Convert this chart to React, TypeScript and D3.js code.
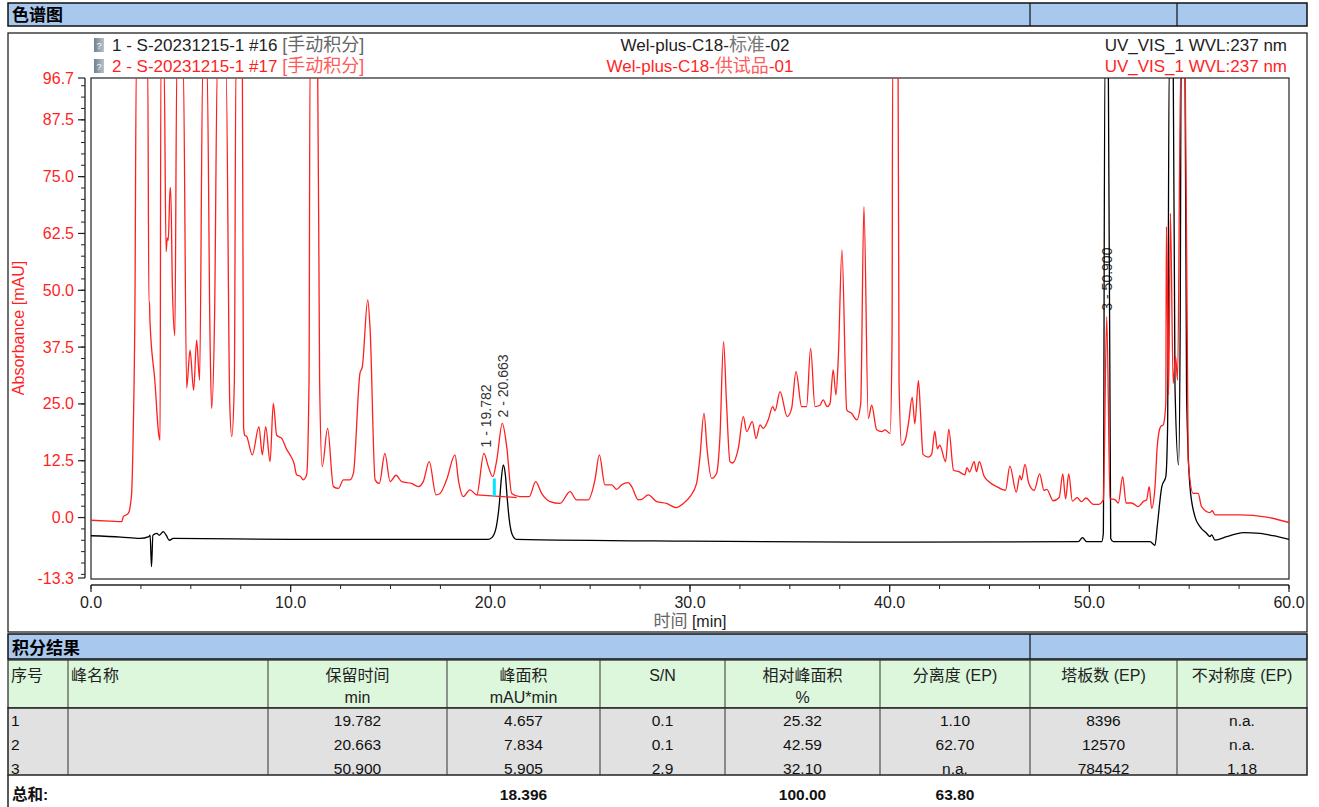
import React from 'react';
import * as d3 from 'd3';

// red trace: 2 - S-20231215-1 #17 (time min, mAU); 100 = beyond the top of the scale
const redTrace: [number, number][] = [
  [0, -0.6], [1.0, -0.8], [1.54, -0.9], [1.62, 0.2], [1.87, 0.9], [1.98, 3], [2.04, 5.7], [2.12, 20], [2.2, 46],
  [2.27, 100], [2.84, 100], [2.9, 47.5], [2.93, 47.5], [2.95, 43.5], [3.2, 30], [3.4, 18], [3.46, 17], [3.5, 100],
  [3.66, 100], [3.76, 58.5], [3.82, 61.5], [3.87, 61.0], [3.96, 72.5], [3.99, 72.5], [4.08, 50], [4.2, 40],
  [4.3, 100], [4.62, 100], [4.79, 28.5], [4.96, 36.8], [5.14, 28], [5.29, 39], [5.44, 30.2], [5.6, 100],
  [5.81, 100], [5.96, 40], [6.04, 24], [6.19, 44.5], [6.33, 100], [6.76, 100], [6.95, 25], [7.05, 17.8],
  [7.18, 30], [7.26, 100], [7.58, 100], [7.64, 20], [7.7, 18.1], [7.8, 17.8], [8.08, 13.8], [8.41, 20],
  [8.58, 13.8], [8.75, 20], [8.97, 12.3], [9.13, 25.1], [9.3, 18.1], [9.55, 17.4], [9.8, 15], [9.97, 13.8],
  [10.17, 11.9], [10.3, 9.4], [10.5, 9.0], [10.63, 8.3], [10.8, 9.4], [10.92, 30], [10.97, 100], [11.35, 100],
  [11.45, 30], [11.58, 11.2], [11.85, 19.6], [12.14, 6.8], [12.39, 6.4], [12.64, 8.3], [12.97, 8.3],
  [13.14, 9.7], [13.47, 31.7], [13.59, 33.2], [13.86, 47.9], [13.98, 41.3], [14.23, 8.3], [14.44, 7.5],
  [14.72, 14.1], [14.98, 7.9], [15.28, 9.3], [15.56, 7.9], [16.06, 7.5], [16.39, 6.8], [16.64, 7.9],
  [16.94, 12.3], [17.28, 5.0], [17.48, 5.3], [17.81, 8.3], [18.23, 13.8], [18.4, 8.3], [18.65, 4.6],
  [18.98, 6.1], [19.32, 5.0], [19.68, 14.1], [19.9, 11.2], [20.12, 9.0], [20.32, 12.6], [20.6, 20.7],
  [20.82, 15.6], [21.07, 5.3], [21.48, 4.6], [21.95, 4.6], [22.27, 7.9], [22.57, 5.3], [22.99, 3.5],
  [23.49, 3.1], [23.99, 5.7], [24.32, 3.9], [24.9, 3.9], [25.24, 8.3], [25.46, 13.8], [25.74, 7.2],
  [26.08, 7.2], [26.33, 6.2], [26.58, 7.2], [26.91, 7.7], [27.08, 6.8], [27.41, 3.9], [27.58, 4.0],
  [27.91, 5.0], [28.33, 3.5], [28.83, 3.1], [29.3, 2.2], [29.67, 3.1], [30.0, 4.6], [30.33, 7.5],
  [30.5, 13.4], [30.7, 22.9], [30.86, 14.8], [31.08, 8.6], [31.33, 9.7], [31.5, 17.8], [31.68, 38.7],
  [31.83, 25.1], [32.0, 12.3], [32.13, 12.0], [32.42, 15.2], [32.67, 22.2], [32.84, 18.9], [33.12, 21.1],
  [33.31, 17.4], [33.51, 20.4], [33.67, 19.6], [33.92, 21.5], [34.14, 24.4], [34.26, 23.5], [34.51, 27.7],
  [34.87, 22.2], [35.09, 24.0], [35.31, 32.1], [35.59, 24.4], [35.84, 24.4], [36.04, 37.2], [36.26, 24.4],
  [36.51, 24.7], [36.67, 25.9], [36.87, 24.4], [37.01, 25.0], [37.17, 32.5], [37.31, 27.0], [37.43, 35.4],
  [37.61, 58.9], [37.85, 23.7], [38.1, 22.9], [38.35, 21.5], [38.55, 25.1], [38.71, 68.4], [38.93, 21.8],
  [39.1, 24.7], [39.35, 19.3], [39.6, 18.9], [39.77, 19.3], [40.02, 18.5], [40.12, 40], [40.15, 100],
  [40.42, 100], [40.47, 30], [40.6, 15.9], [40.78, 17], [40.95, 21], [41.13, 26.5], [41.26, 20.6],
  [41.44, 30.1], [41.55, 22.6], [41.67, 13.9], [41.94, 13.3], [42.1, 13.9], [42.26, 19.0], [42.39, 15.1],
  [42.51, 15.9], [42.8, 12.3], [42.96, 19.4], [43.2, 10.4], [43.46, 10.1], [43.77, 9.4], [43.87, 11],
  [44.0, 10], [44.23, 12.3], [44.35, 10.1], [44.49, 12.3], [44.72, 9.2], [44.99, 7.8], [45.36, 6.8],
  [45.8, 6.0], [46.02, 11.3], [46.34, 5.6], [46.52, 9.2], [46.6, 8.3], [46.78, 11.7], [46.96, 7.6],
  [47.24, 6.0], [47.51, 9.6], [47.73, 6.0], [47.87, 6.2], [48.19, 3.7], [48.49, 4.4], [48.67, 9.6],
  [48.81, 4.1], [48.97, 9.6], [49.15, 3.6], [49.39, 4.4], [49.6, 3.5], [49.83, 4.3], [50.2, 2.9],
  [50.47, 2.9], [50.7, 3.9], [50.87, 44.2], [51.04, 4.2], [51.3, 3.9], [51.45, 3.2], [51.67, 9.0],
  [51.84, 3.2], [52.12, 3.2], [52.45, 2.4], [52.7, 3.5], [52.87, 3.9], [53.0, 6.8], [53.12, 2.0],
  [53.29, 6.8], [53.4, 15.6], [53.57, 20], [53.7, 20.4], [53.83, 25.1], [53.86, 64.0], [53.97, 27],
  [54.06, 66.9], [54.2, 29.5], [54.32, 35.4], [54.42, 30.2], [54.58, 100], [54.8, 100], [54.95, 12.7],
  [55.2, 5.3], [55.45, 5.3], [55.62, 2.4], [56.04, 1.1], [56.16, 1.5], [56.29, 0.6], [57.54, 0.6],
  [58.88, 0.1], [60, -1.1],
];

// black trace: 1 - S-20231215-1 #16
const blackTrace: [number, number][] = [
  [0, -4.0], [1.5, -4.3], [2.45, -4.6], [2.9, -4.2], [2.96, -3.9], [3.03, -10.8], [3.1, -3.9], [3.3, -3.5],
  [3.42, -3.9], [3.62, -3.1], [3.78, -4.0], [3.92, -5.0], [4.12, -4.6], [10, -4.8], [19.9, -4.8], [20.1, -4.3],
  [20.3, -2], [20.45, 3], [20.55, 8.5], [20.65, 11.6], [20.75, 9.5], [20.85, 4], [20.95, -0.5], [21.1, -3.8],
  [21.3, -4.8], [30, -5.2], [40, -5.4], [49.45, -5.3], [49.66, -4.4], [49.86, -5.3], [50.62, -5.3],
  [50.7, -3.5], [50.78, 100], [50.95, 100], [51.07, -4.6], [51.2, -5.3], [53.04, -5.3], [53.29, -6.1],
  [53.4, -2.0], [53.63, 6.8], [53.83, 9.0], [53.92, 20], [54.0, 100], [54.2, 100], [54.29, 28.8],
  [54.47, 11.6], [54.55, 42], [54.6, 100], [54.79, 100], [54.87, 27.3], [55.04, 6.8], [55.29, 0.2],
  [55.54, -2.0], [55.88, -3.5], [56.04, -4.2], [56.13, -3.8], [56.29, -4.95], [56.88, -4.2], [57.71, -3.3],
  [58.55, -3.5], [59.2, -4.0], [60, -4.8],
];

const yTickLabels = [96.7, 87.5, 75.0, 62.5, 50.0, 37.5, 25.0, 12.5, 0.0, -13.3];
const xTickLabels = [0, 10, 20, 30, 40, 50, 60];
const peakIds = [1, 2, 3];
const peakTimes = [19.782, 20.663, 50.9];
const integrationBaseline: [number, number][] = [[19.32, 5.0], [21.32, 4.4]];
const dropLine = { time: 20.2, low: 4.7, high: 8.6 };

// results table
const tableHeaders: [string, string][] = [
  ['序号', ''], ['峰名称', ''], ['保留时间', 'min'], ['峰面积', 'mAU*min'], ['S/N', ''],
  ['相对峰面积', '%'], ['分离度 (EP)', ''], ['塔板数 (EP)', ''], ['不对称度 (EP)', ''],
];
const peakNames = ['', '', ''];
const retention = ['19.782', '20.663', '50.900'];
const areas = ['4.657', '7.834', '5.905'];
const sn = ['0.1', '0.1', '2.9'];
const relArea = ['25.32', '42.59', '32.10'];
const resolution = ['1.10', '62.70', 'n.a.'];
const plates = ['8396', '12570', '784542'];
const asymmetry = ['n.a.', 'n.a.', '1.18'];
const totals = ['总和:', '', '', '18.396', '', '100.00', '63.80', '', ''];

const FONT = "'Liberation Sans', Arial, 'Noto Sans CJK SC', sans-serif";
const RED = '#ff1f1f';
const BLUE = '#a8c8ee';
const GREEN = '#dcf7dc';
const GREY = '#e1e1e1';

const W = 1319;
const H = 807;
const colEdges = [8, 68, 268, 447, 600, 725, 880, 1030, 1177, 1307];

export default function App() {
  const x = d3.scaleLinear().domain([0, 60]).range([91, 1289]);
  const y = d3.scaleLinear().domain([-13.3, 96.7]).range([578, 78]);

  const line = d3
    .line<[number, number]>()
    .x((d) => x(d[0]))
    .y((d) => y(d[1]))
    .curve(d3.curveMonotoneX);

  const minorY = d3.range(-12.5, 96.7, 2.5);
  const minorX = d3.range(0, 60.01, 2.5);

  const labels = peakTimes.map((rt, i) => {
    const near = redTrace.filter((p) => Math.abs(p[0] - rt) < 0.2);
    const top = d3.max(near, (p) => p[1]) ?? 0;
    return { id: peakIds[i], rt, top };
  });

  const rows = retention.map((_, i) => [
    String(peakIds[i]), peakNames[i], retention[i], areas[i], sn[i], relArea[i], resolution[i], plates[i], asymmetry[i],
  ]);

  const colCenter = (i: number) => (colEdges[i] + colEdges[i + 1]) / 2;

  return (
    <svg width={W} height={H} style={{ position: 'absolute', left: 0, top: 0, background: '#fff' }} fontFamily={FONT}>
      <defs>
        <clipPath id="plotClip">
          <rect x={x(0)} y={y(96.7)} width={x(60) - x(0)} height={y(-13.3) - y(96.7)} />
        </clipPath>
        <linearGradient id="icon" x1="0" x2="1">
          <stop offset="0" stopColor="#6f8290" />
          <stop offset="1" stopColor="#b7c3cc" />
        </linearGradient>
      </defs>

      {/* title bar */}
      <rect x={8} y={3} width={1299} height={23} fill={BLUE} stroke="#111" strokeWidth={1.5} />
      <line x1={1030} x2={1030} y1={3} y2={26} stroke="#111" strokeWidth={1.2} />
      <line x1={1177} x2={1177} y1={3} y2={26} stroke="#111" strokeWidth={1.2} />
      <text x={12} y={21} fontSize={17} fontWeight="bold" fill="#000">色谱图</text>

      {/* chart panel */}
      <rect x={8} y={33} width={1299} height={599} fill="#fff" stroke="#222" strokeWidth={1.3} />

      {/* legend */}
      {[0, 1].map((r) => (
        <g key={r}>
          <rect x={94} y={38 + r * 21} width={10} height={14} fill="url(#icon)" />
          <text x={99} y={49 + r * 21} fontSize={9} fill="#fff" textAnchor="middle">?</text>
        </g>
      ))}
      <text x={112} y={51} fontSize={17} fill="#222">
        1 - S-20231215-1 #16 <tspan fill="#666" fontSize={18}>[手动积分]</tspan>
      </text>
      <text x={112} y={72} fontSize={17} fill={RED}>
        2 - S-20231215-1 #17 <tspan fill="#ff5a5a" fontSize={18}>[手动积分]</tspan>
      </text>
      <text x={705} y={51} fontSize={17} fill="#222" textAnchor="middle">
        Wel-plus-C18-<tspan fill="#777" fontSize={18}>标准</tspan>-02
      </text>
      <text x={700} y={72} fontSize={17} fill={RED} textAnchor="middle">
        Wel-plus-C18-<tspan fill="#ff5a5a" fontSize={18}>供试品</tspan>-01
      </text>
      <text x={1287} y={51} fontSize={17} fill="#222" textAnchor="end">UV_VIS_1 WVL:237 nm</text>
      <text x={1287} y={72} fontSize={17} fill={RED} textAnchor="end">UV_VIS_1 WVL:237 nm</text>

      {/* plot frame */}
      <rect x={x(0)} y={y(96.7)} width={x(60) - x(0)} height={y(-13.3) - y(96.7) + 1} fill="none" stroke="#333" strokeWidth={1.3} />

      {/* y axis */}
      <line x1={85} x2={85} y1={y(96.7)} y2={y(-13.3)} stroke="#222" strokeWidth={1.3} />
      {minorY.map((v) => (
        <line key={'my' + v} x1={81} x2={85} y1={y(v)} y2={y(v)} stroke="#222" strokeWidth={1} />
      ))}
      {yTickLabels.map((v) => (
        <g key={'y' + v}>
          <line x1={78} x2={85} y1={y(v)} y2={y(v)} stroke="#222" strokeWidth={1.2} />
          <text x={74} y={y(v) + 5.5} fontSize={16} fill={RED} textAnchor="end">{v.toFixed(1)}</text>
        </g>
      ))}
      <text transform="translate(24,328) rotate(-90)" fontSize={16} fill={RED} textAnchor="middle">Absorbance [mAU]</text>

      {/* x axis */}
      <line x1={x(0)} x2={x(60)} y1={585} y2={585} stroke="#222" strokeWidth={1.3} />
      {minorX.map((t) => (
        <line key={'mx' + t} x1={x(t)} x2={x(t)} y1={585} y2={589} stroke="#222" strokeWidth={1} />
      ))}
      {xTickLabels.map((t) => (
        <g key={'x' + t}>
          <line x1={x(t)} x2={x(t)} y1={585} y2={592} stroke="#222" strokeWidth={1.2} />
          <text x={x(t)} y={608} fontSize={16} fill="#222" textAnchor="middle">{t.toFixed(1)}</text>
        </g>
      ))}
      <text x={690} y={627} fontSize={16} fill="#222" textAnchor="middle">
        <tspan fill="#666" fontSize={17}>时间</tspan> [min]
      </text>

      {/* peak labels */}
      {labels.map((l) => (
        <text
          key={l.id}
          transform={`translate(${x(l.rt)},${y(l.top) - 6}) rotate(-90)`}
          fontSize={14}
          fill="#333"
          dy="0.35em"
        >
          {`${l.id} - ${l.rt.toFixed(3)}`}
        </text>
      ))}

      {/* traces */}
      <g clipPath="url(#plotClip)">
        <path d={line(blackTrace) ?? ''} fill="none" stroke="#000" strokeWidth={1.3} />
        <path d={line(redTrace) ?? ''} fill="none" stroke={RED} strokeWidth={1.3} />
        <path d={d3.line()(integrationBaseline.map((p) => [x(p[0]), y(p[1])])) ?? ''} stroke={RED} strokeWidth={1.2} fill="none" />
        <line x1={x(dropLine.time)} x2={x(dropLine.time)} y1={y(dropLine.low)} y2={y(dropLine.high)} stroke="#00e8ff" strokeWidth={3} />
      </g>

      {/* results table */}
      <rect x={8} y={634} width={1299} height={25} fill={BLUE} stroke="#111" strokeWidth={1.5} />
      <line x1={1030} x2={1030} y1={634} y2={659} stroke="#111" strokeWidth={1.2} />
      <text x={12} y={654} fontSize={17} fontWeight="bold" fill="#000">积分结果</text>

      <rect x={8} y={660} width={1299} height={48} fill={GREEN} stroke="#222" strokeWidth={1.2} />
      <rect x={8} y={708} width={1299} height={67} fill={GREY} stroke="#222" strokeWidth={1.5} />
      {colEdges.slice(1, -1).map((cx) => (
        <line key={'c' + cx} x1={cx} x2={cx} y1={660} y2={775} stroke="#333" strokeWidth={1} />
      ))}
      {tableHeaders.map((h, i) => {
        const left = i < 2;
        const tx = left ? colEdges[i] + 3 : colCenter(i);
        return (
          <g key={'h' + i} fontSize={16} fill="#222" textAnchor={left ? 'start' : 'middle'}>
            <text x={tx} y={681}>{h[0]}</text>
            {h[1] && <text x={tx} y={703}>{h[1]}</text>}
          </g>
        );
      })}
      {rows.map((row, r) =>
        row.map((cell, i) => {
          const left = i < 2;
          return (
            <text
              key={`r${r}c${i}`}
              x={left ? colEdges[i] + 3 : colCenter(i)}
              y={726 + r * 24}
              fontSize={15.5}
              fill="#111"
              textAnchor={left ? 'start' : 'middle'}
            >
              {cell}
            </text>
          );
        })
      )}
      <line x1={8} x2={8} y1={775} y2={807} stroke="#222" strokeWidth={1.5} />
      {totals.map((cell, i) =>
        cell ? (
          <text
            key={'t' + i}
            x={i === 0 ? colEdges[0] + 4 : colCenter(i)}
            y={800}
            fontSize={15.5}
            fontWeight="bold"
            fill="#111"
            textAnchor={i === 0 ? 'start' : 'middle'}
          >
            {cell}
          </text>
        ) : null
      )}
    </svg>
  );
}
